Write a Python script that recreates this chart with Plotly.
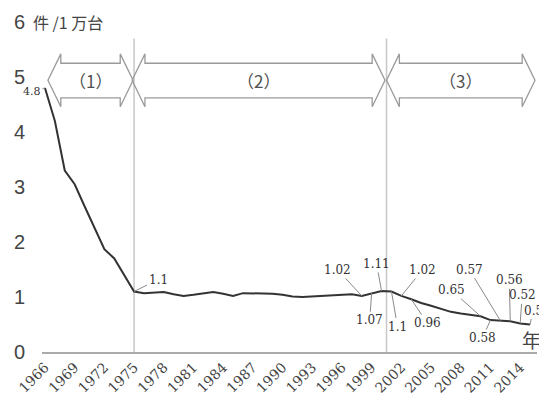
import plotly.graph_objects as go

years = list(range(1966, 2016))
values = [4.8, 4.2, 3.3, 3.05, 2.65, 2.25, 1.87, 1.7, 1.4, 1.1,
          1.07, 1.08, 1.09, 1.05, 1.02, 1.04, 1.07, 1.09, 1.06, 1.02,
          1.07, 1.07, 1.06, 1.06, 1.04, 1.01, 1.0, 1.01, 1.02, 1.02,
          1.03, 1.05, 1.02, 1.07, 1.11, 1.1, 1.02, 0.96, 0.89, 0.84,
          0.78, 0.73, 0.7, 0.68, 0.65, 0.58, 0.57, 0.56, 0.52, 0.5]

tick_years = list(range(1966, 2015, 3))
y_ticks = [0, 1, 2, 3, 4, 5, 6]
unit_label = "件 /1 万台"
year_label = "年"

# labelled points: year -> (text, dx, dy offsets in px)
point_labels = {
    1966: ("4.8", -13, 3),
    1975: ("1.1", 24, -12),
    1998: ("1.02", -24, -26),
    1999: ("1.07", -2, 27),
    2000: ("1.11", -5, -27),
    2001: ("1.1", 6, 35),
    2002: ("1.02", 21, -26),
    2003: ("0.96", 16, 24),
    2010: ("0.65", -29, -26),
    2011: ("0.58", -8, 18),
    2012: ("0.57", -31, -51),
    2013: ("0.56", -1, -41),
    2014: ("0.52", 2, -28),
    2015: ("0.5", 3, -14),
}

periods = [("（1）", 1966.3, 1974.9), ("（2）", 1974.8, 2000.35), ("（3）", 2000.5, 2015.5)]
boundaries = [1975, 2000.5]

fig = go.Figure()
fig.add_trace(go.Scatter(x=years, y=values, mode="lines",
                         line=dict(color="#333333", width=2), hoverinfo="skip"))

# vertical boundary lines
for b in boundaries:
    fig.add_shape(type="line", x0=b, x1=b, y0=0, y1=5.7, xref="x", yref="y",
                  line=dict(color="#c8c8c8", width=1.5), layer="below")

# double-headed block arrows
top, bot, mid = 5.25, 4.62, 4.94
wtop, wbot = 5.42, 4.46
h = 1.3
for txt, x0, x1 in periods:
    path = (f"M {x0},{mid} L {x0+h},{wtop} L {x0+h},{top} L {x1-h},{top} L {x1-h},{wtop} "
            f"L {x1},{mid} L {x1-h},{wbot} L {x1-h},{bot} L {x0+h},{bot} L {x0+h},{wbot} Z")
    fig.add_shape(type="path", path=path, xref="x", yref="y",
                  line=dict(color="#9a9a9a", width=1.3), fillcolor="rgba(255,255,255,0)")
    fig.add_annotation(x=(x0 + x1) / 2, y=mid, text=txt, showarrow=False,
                       font=dict(family="Noto Sans CJK JP", size=17, color="#505050"))

# point labels
for yr, (txt, dx, dy) in point_labels.items():
    v = values[years.index(yr)]
    fig.add_annotation(x=yr, y=v, text=txt, ax=dx, ay=dy, showarrow=True,
                       arrowhead=0, arrowwidth=1, arrowcolor="#8a8a8a", standoff=0,
                       font=dict(family="DejaVu Serif", size=12 if txt != "4.8" else 11,
                                 color="#333333"))

fig.add_annotation(x=-0.022, y=6, xref="paper", yref="y", text=unit_label, showarrow=False,
                   xanchor="left", yanchor="middle",
                   font=dict(family="Noto Sans CJK JP", size=16, color="#444444"))
fig.add_annotation(x=2015.1, y=0.22, text=year_label, showarrow=False,
                   font=dict(family="Noto Sans CJK JP", size=19, color="#444444"))

fig.update_layout(
    width=547, height=403,
    margin=dict(l=34, r=18, t=14, b=59),
    paper_bgcolor="white", plot_bgcolor="white",
    showlegend=False,
)
fig.update_xaxes(range=[1965.7, 2015.7], tickvals=tick_years, ticktext=[str(t) for t in tick_years],
                 tickangle=-45, showgrid=False, zeroline=False, showline=True,
                 linecolor="#aaaaaa", linewidth=1.5, ticks="", automargin=False,
                 tickfont=dict(family="DejaVu Serif", size=14, color="#444444"))
fig.update_yaxes(range=[0, 6], tickvals=y_ticks, ticktext=[str(t) for t in y_ticks],
                 showgrid=False, zeroline=False, showline=False, ticks="", automargin=False,
                 ticklabelstandoff=16,
                 tickfont=dict(family="Liberation Sans", size=20, color="#444444"))

fig.write_html("out.html")
